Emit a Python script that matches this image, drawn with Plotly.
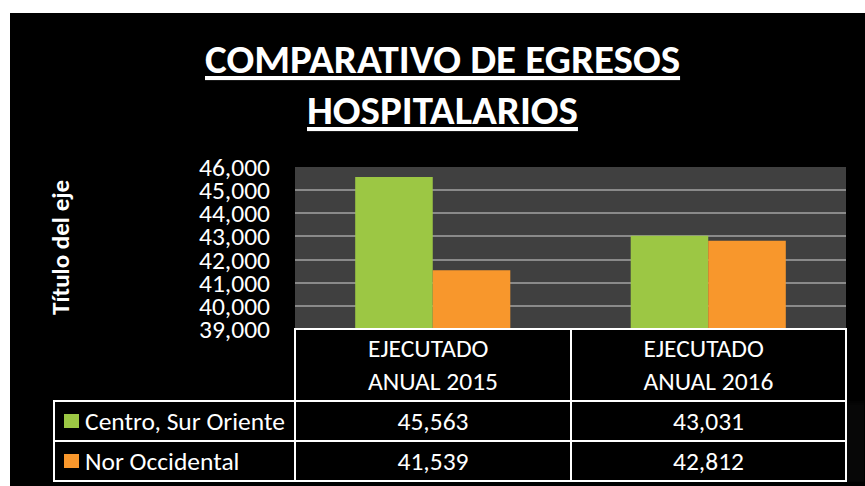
import plotly.graph_objects as go

categories = ["EJECUTADO<br>ANUAL 2015", "EJECUTADO<br>ANUAL 2016"]
series_names = ["Centro, Sur Oriente", "Nor Occidental"]
centro_values = [45563, 43031]
nor_values = [41539, 42812]
y_ticks = [39000, 40000, 41000, 42000, 43000, 44000, 45000, 46000]
colors = ["#9cc744", "#f8972c"]

FONT = "Carlito, Liberation Sans Narrow, Lato, sans-serif"
FS = 25.5
CLEAR = "rgba(0,0,0,0)"

W, H = 865, 486
ml, mr, mt, mb = 54, 19, 167, 4
pw = W - ml - mr
ph = H - mt - mb
plot_left_px, plot_bottom_px = 295, 329
xdom0 = (plot_left_px - ml) / pw
ydom0 = (H - mb - plot_bottom_px) / ph

def px_x(px):
    return (px - ml) / pw

def px_y(py):
    return (H - mb - py) / ph

fig = go.Figure()
for name, vals, col in zip(series_names, [centro_values, nor_values], colors):
    fig.add_trace(go.Bar(
        x=categories, y=vals, name=name,
        marker=dict(color=col, line=dict(color=col, width=0)),
        xaxis="x", yaxis="y", showlegend=False,
    ))

def fmt(v):
    return f"{v:,}"

def nobreak(s):
    return "\u00a0" * 4 + s.replace(" ", "\u00a0")

colwidths = [241, 276, 275]
# table grid (borders and black cells)
fig.add_trace(go.Table(
    domain=dict(x=[0, 1], y=[0, ydom0]),
    columnwidth=colwidths,
    header=dict(
        values=["", "", ""],
        fill=dict(color=[CLEAR, "black", "black"]),
        line=dict(color=[CLEAR, "white", "white"], width=1.5),
        height=72,
    ),
    cells=dict(
        values=[["", ""], ["", ""], ["", ""]],
        fill_color="black",
        line=dict(color="white", width=1.5),
        height=40,
    ),
))
# header texts of the table
fig.add_trace(go.Table(
    domain=dict(x=[0, 1], y=[0, px_y(324.5)]),
    columnwidth=colwidths,
    header=dict(
        values=[""] + categories,
        fill=dict(color=CLEAR), line=dict(color=CLEAR, width=0),
        font=dict(color="white", size=FS, family=FONT),
        align="center", height=72,
    ),
    cells=dict(values=[[""], [""], [""]], fill=dict(color=CLEAR),
               line=dict(color=CLEAR, width=0), height=20),
))
# data rows of the table (empty transparent spacer header of 20 px)
fig.add_trace(go.Table(
    domain=dict(x=[0, 1], y=[0, px_y(383)]),
    columnwidth=colwidths,
    header=dict(values=["", "", ""], fill=dict(color=CLEAR),
                line=dict(color=CLEAR, width=0), font=dict(size=1), height=20),
    cells=dict(
        values=[[nobreak(n) for n in series_names],
                [fmt(centro_values[0]), fmt(nor_values[0])],
                [fmt(centro_values[1]), fmt(nor_values[1])]],
        fill=dict(color=CLEAR), line=dict(color=CLEAR, width=0),
        font=dict(color="white", size=FS, family=FONT),
        align=["left", "center", "center"], height=40,
    ),
))

fig.update_layout(
    width=W, height=H,
    margin=dict(l=ml, r=mr, t=mt, b=mb, pad=0, autoexpand=False),
    paper_bgcolor="black", plot_bgcolor="#404040",
    barmode="group", bargap=0.437, bargroupgap=0,
    font=dict(family=FONT, color="white"),
    xaxis=dict(domain=[xdom0, 1], showticklabels=False, showgrid=False,
               zeroline=False, showline=False, ticks="", automargin=False),
    yaxis=dict(domain=[ydom0, 1], range=[39000, 46000], tickvals=y_ticks,
               tickformat=",d", showgrid=True, gridcolor="#8a8a8a", gridwidth=1.5,
               zeroline=False, showline=False, ticks="", ticklabelstandoff=24,
               automargin=False,
               tickfont=dict(size=FS, color="white", family=FONT)),
    showlegend=False,
)

# legend swatches in the table's first column
for i, c in enumerate(colors):
    fig.add_annotation(
        text=" ", showarrow=False, xref="paper", yref="paper",
        x=px_x(71), y=px_y(421 + 40 * i), xanchor="center", yanchor="middle",
        width=15, height=14, bgcolor=c, borderpad=0, borderwidth=0,
        font=dict(size=8),
    )

fig.add_annotation(
    text="<b>Título del eje</b>", textangle=-90, showarrow=False,
    xref="paper", yref="paper", x=px_x(60), y=px_y(248),
    xanchor="center", yanchor="middle",
    font=dict(size=25, color="white", family=FONT),
)
fig.add_annotation(
    text="<b><u>COMPARATIVO DE EGRESOS</u></b>", showarrow=False,
    xref="paper", yref="paper", x=px_x(442), y=px_y(59),
    xanchor="center", yanchor="middle",
    font=dict(size=41, color="white", family=FONT),
)
fig.add_annotation(
    text="<b><u>HOSPITALARIOS</u></b>", showarrow=False,
    xref="paper", yref="paper", x=px_x(442), y=px_y(110),
    xanchor="center", yanchor="middle",
    font=dict(size=41, color="white", family=FONT),
)

# white margins of the original picture (top strip and left strip)
fig.add_shape(type="rect", xref="paper", yref="paper",
              x0=px_x(0), x1=px_x(W), y0=px_y(13), y1=px_y(0),
              fillcolor="white", line_width=0, layer="below")
fig.add_shape(type="rect", xref="paper", yref="paper",
              x0=px_x(0), x1=px_x(10), y0=px_y(H), y1=px_y(0),
              fillcolor="white", line_width=0, layer="below")
# top border of the table under the plot area
fig.add_shape(type="line", xref="paper", yref="paper",
              x0=xdom0, x1=1, y0=ydom0, y1=ydom0,
              line=dict(color="white", width=1.5))

fig.write_html("out.html", config={"displayModeBar": False},
               post_script="document.body.style.margin='0';")
